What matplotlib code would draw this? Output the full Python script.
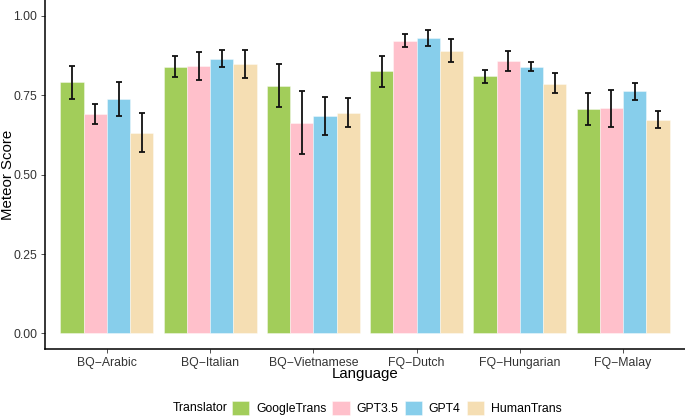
import matplotlib
matplotlib.use("Agg")
import matplotlib.pyplot as plt
from matplotlib.patches import Patch
import numpy as np

plt.rcParams['font.family'] = ['Liberation Sans', 'DejaVu Sans']

languages = ["BQ\u2212Arabic", "BQ\u2212Italian", "BQ\u2212Vietnamese",
             "FQ\u2212Dutch", "FQ\u2212Hungarian", "FQ\u2212Malay"]
translators = ["GoogleTrans", "GPT3.5", "GPT4", "HumanTrans"]
colors = ["#A2CD5A", "#FFC0CB", "#87CEEB", "#F5DEB3"]

google_mean = [0.791, 0.839, 0.778, 0.825, 0.810, 0.707]
google_lo   = [0.739, 0.807, 0.712, 0.777, 0.790, 0.656]
google_hi   = [0.842, 0.875, 0.847, 0.874, 0.831, 0.758]

gpt35_mean = [0.691, 0.841, 0.662, 0.922, 0.857, 0.709]
gpt35_lo   = [0.661, 0.797, 0.564, 0.903, 0.827, 0.650]
gpt35_hi   = [0.724, 0.887, 0.764, 0.943, 0.889, 0.768]

gpt4_mean = [0.737, 0.864, 0.685, 0.930, 0.840, 0.763]
gpt4_lo   = [0.684, 0.838, 0.625, 0.906, 0.826, 0.736]
gpt4_hi   = [0.793, 0.891, 0.746, 0.954, 0.856, 0.789]

human_mean = [0.631, 0.849, 0.694, 0.890, 0.787, 0.673]
human_lo   = [0.570, 0.805, 0.650, 0.854, 0.756, 0.647]
human_hi   = [0.693, 0.894, 0.742, 0.928, 0.819, 0.701]

y_ticks = [0.00, 0.25, 0.50, 0.75, 1.00]
y_ticklabels = ["0.00", "0.25", "0.50", "0.75", "1.00"]

series = [
    (google_mean, google_lo, google_hi),
    (gpt35_mean, gpt35_lo, gpt35_hi),
    (gpt4_mean, gpt4_lo, gpt4_hi),
    (human_mean, human_lo, human_hi),
]

W, H = 685, 417
fig = plt.figure(figsize=(W / 100, H / 100), dpi=100)
ax = fig.add_axes([45 / W, 1 - 349.3 / H, 640 / W, 349.3 / H])

x = np.arange(1, len(languages) + 1)
group_w = 0.9
bw = group_w / len(translators)
text_col = "#333333"

for i, (m, lo, hi) in enumerate(series):
    pos = x - group_w / 2 + bw * (i + 0.5)
    m = np.array(m); lo = np.array(lo); hi = np.array(hi)
    ax.bar(pos, m, width=bw, color=colors[i], edgecolor=(1, 1, 1, 0.45),
           linewidth=0.6, zorder=2)
    ax.errorbar(pos, m, yerr=[m - lo, hi - m], fmt='none', ecolor='#111111',
                elinewidth=1.3, capsize=2.3, capthick=1.3, zorder=3)

ax.set_xlim(0.4, len(languages) + 0.6)
ax.set_ylim(-0.05, 1.05)
ax.set_xticks(x)
ax.set_xticklabels(languages, fontsize=8.8, color=text_col)
ax.set_yticks(y_ticks)
ax.set_yticklabels(y_ticklabels, fontsize=8.8, color=text_col)
ax.tick_params(axis='both', length=3, width=0.6, color='#333333', pad=2.5)
for s in ['top', 'right']:
    ax.spines[s].set_visible(False)
for s in ['left', 'bottom']:
    ax.spines[s].set_linewidth(1.1)
    ax.spines[s].set_color('black')

fig.text(365 / W, 1 - 374 / H, "Language", fontsize=10.8, ha='center', va='center', color='black')
fig.text(8 / W, 1 - 175 / H, "Meteor Score", fontsize=10.8, ha='center', va='center',
         rotation=90, color='black')

fig.text(172.7 / W, 1 - 407.7 / H, "Translator", fontsize=8.8, ha='left', va='center', color='black')
handles = [Patch(facecolor=c, edgecolor=(1, 1, 1, 0.45), linewidth=0.6) for c in colors]
fs = 8.8
px_per_em = fs * 100 / 72
fig.legend(handles, translators, loc='center left',
           bbox_to_anchor=(231.7 / W, 1 - 407.7 / H), ncol=4, frameon=False,
           fontsize=fs, handlelength=17.3 / px_per_em, handleheight=17.3 / px_per_em,
           handletextpad=7 / px_per_em, columnspacing=6 / px_per_em,
           borderpad=0, borderaxespad=0)

fig.savefig("out.png", dpi=100)
